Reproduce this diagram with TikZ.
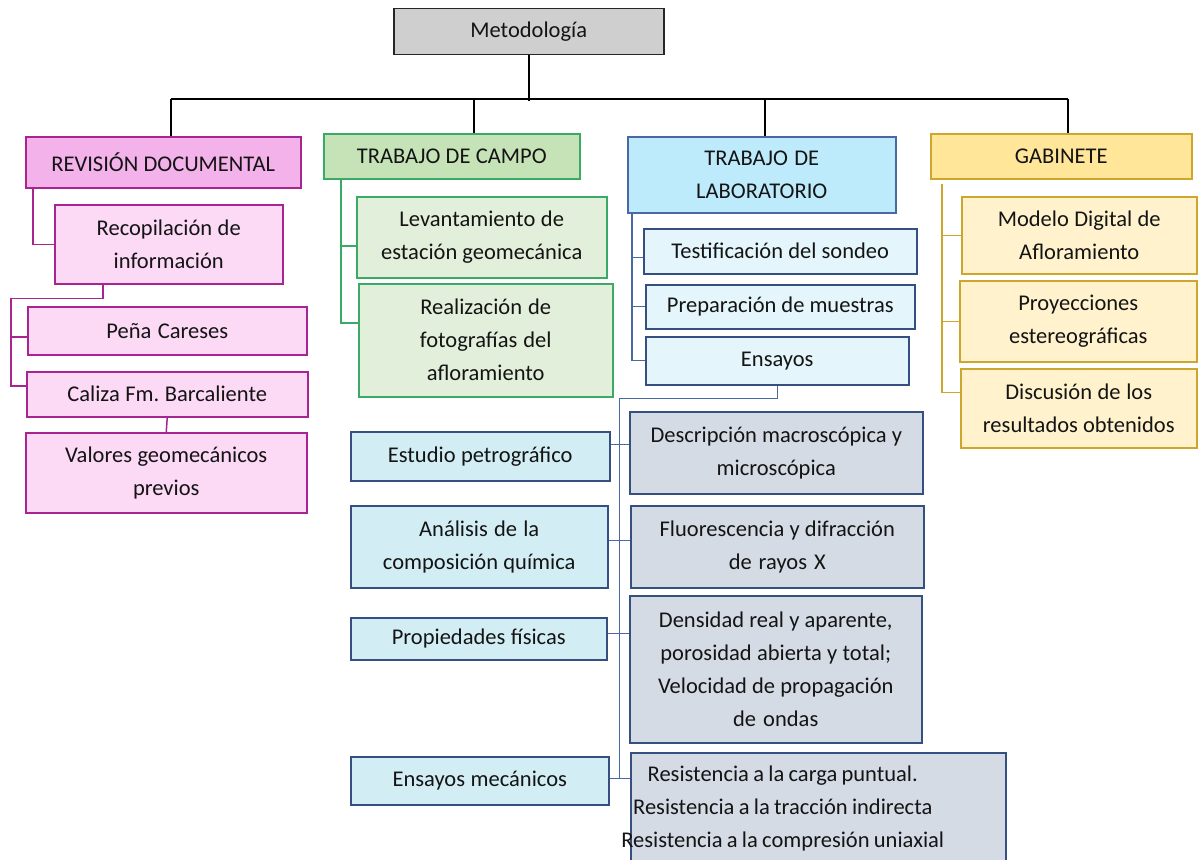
\documentclass[tikz,border=0pt]{standalone}
\usepackage{fontspec}
\setmainfont{Carlito}[WordSpace={0.85,0.5,0.5}]
\frenchspacing
\definecolor{metfill}{HTML}{D0CFCF}
\definecolor{revfill}{HTML}{F4B2EA}
\definecolor{pinkfill}{HTML}{FCD9F5}
\definecolor{magline}{HTML}{A8258F}
\definecolor{campofill}{HTML}{C6E3B8}
\definecolor{greenfill}{HTML}{E2EFDA}
\definecolor{greenline}{HTML}{3AAA66}
\definecolor{labfill}{HTML}{BEEBFB}
\definecolor{lightblue}{HTML}{E4F5FB}
\definecolor{cyanfill}{HTML}{D2EEF4}
\definecolor{greyblue}{HTML}{D5DBE5}
\definecolor{blueline}{HTML}{4A69A4}
\definecolor{darkblue}{HTML}{344F80}
\definecolor{gabfill}{HTML}{FFE699}
\definecolor{goldfill}{HTML}{FFF2CC}
\definecolor{goldline}{HTML}{CDA62E}
\definecolor{txt}{HTML}{141414}
\tikzset{
  bx/.style={draw, line width=1.5pt, text=txt, font=\fontsize{22.5}{33}\selectfont},
  metb/.style={bx, fill=metfill, draw=black!85},
  revb/.style={bx, fill=revfill, draw=magline},
  pinkb/.style={bx, fill=pinkfill, draw=magline},
  campob/.style={bx, fill=campofill, draw=greenline},
  greenb/.style={bx, fill=greenfill, draw=greenline},
  labb/.style={bx, fill=labfill, draw=blueline},
  lbb/.style={bx, fill=lightblue, draw=darkblue},
  cyb/.style={bx, fill=cyanfill, draw=darkblue},
  gbb/.style={bx, fill=greyblue, draw=darkblue},
  gabb/.style={bx, fill=gabfill, draw=goldline},
  goldb/.style={bx, fill=goldfill, draw=goldline},
  blk/.style={line width=1.8pt, draw=black},
  mag/.style={line width=1.5pt, draw=magline},
  grn/.style={line width=1.5pt, draw=greenline},
  blu/.style={line width=1.4pt, draw=blueline},
  gld/.style={line width=1.4pt, draw=goldline},
}
\newcommand\bx[7]{%
  \pgfmathsetlengthmacro\bxw{#5-#3}%
  \pgfmathsetlengthmacro\bxh{#6-#4}%
  \node[#2, anchor=north west, minimum width=\bxw, minimum height=\bxh,
        text width=\bxw, inner sep=0pt, align=center] (#1) at (#3,#4)
        {\spaceskip=0.2em plus 0.05em minus 0.05em\relax #7};}
\begin{document}
\begin{tikzpicture}[x=1pt, y=-1pt]
\useasboundingbox (0,0) rectangle (1198,859);
\fill[white] (0,0) rectangle (1198,859);

% top
\bx{met}{metb}{393}{8}{663}{54}{Metodología}
\bx{rev}{revb}{25}{136}{300}{187}{REVISIÓN DOCUMENTAL}
\bx{campo}{campob}{323}{133}{579}{178}{TRABAJO DE CAMPO}
\bx{lab}{labb}{627}{136}{895}{212}{TRABAJO DE\\LABORATORIO}
\bx{gab}{gabb}{930}{133}{1191}{178}{GABINETE}

% revision documental
\bx{rec}{pinkb}{54}{204}{282}{283}{Recopilación de\\información}
\bx{pena}{pinkb}{27}{306}{306}{354}{Peña Careses}
\bx{cal}{pinkb}{26}{371}{307}{416}{Caliza Fm. Barcaliente}
\bx{val}{pinkb}{25}{432}{306}{512}{Valores geomecánicos\\previos}

% campo
\bx{lev}{greenb}{356}{196}{606}{277}{Levantamiento de\\estación geomecánica}
\bx{rea}{greenb}{358}{283}{612}{396}{Realización de\\fotografías del\\afloramiento}

% laboratorio
\bx{test}{lbb}{643}{228}{916}{273}{Testificación del sondeo}
\bx{prep}{lbb}{645}{284}{914}{328}{Preparación de muestras}
\bx{ens}{lbb}{645}{336}{908}{384}{Ensayos}

\bx{est}{cyb}{350}{431}{609}{480}{Estudio petrográfico}
\bx{ana}{cyb}{350}{505}{607}{587}{Análisis de la\\composición química}
\bx{pro}{cyb}{350}{617}{606}{659}{Propiedades físicas}
\bx{mec}{cyb}{350}{756}{608}{804}{Ensayos mecánicos}

\bx{des}{gbb}{629}{411}{922}{493}{Descripción macroscópica y\\microscópica}
\bx{flu}{gbb}{630}{505}{923}{587}{Fluorescencia y difracción\\de rayos X}
\bx{den}{gbb}{629}{595}{921}{742}{Densidad real y aparente,\\porosidad abierta y total;\\Velocidad de propagación\\de ondas}
\node[gbb, anchor=north west, minimum width=375pt, minimum height=112pt, inner sep=0pt]
  (res) at (630,752) {\begin{minipage}{375pt}%
  \makebox[304pt]{Resistencia a la carga puntual.}\\
  \makebox[304pt]{Resistencia a la tracción indirecta}\\
  \makebox[304pt]{Resistencia a la compresión uniaxial}\end{minipage}};

% gabinete
\bx{mod}{goldb}{961}{196}{1196}{273}{Modelo Digital de\\Afloramiento}
\bx{proy}{goldb}{959}{280}{1196}{361}{Proyecciones\\estereográficas}
\bx{disc}{goldb}{960}{368}{1196}{447}{Discusión de los\\resultados obtenidos}

% main tree
\path (met.south) ++(0,45) coordinate (bus);
\coordinate (d1) at (171,99);
\coordinate (d2) at (474,99);
\coordinate (d3) at (765,99);
\coordinate (d4) at (1068,99);
\draw[blk] (met.south) -- (bus);
\draw[blk] (d1) -- (d4);
\draw[blk] (d1) -- (d1 |- rev.north);
\draw[blk] (d2) -- (d2 |- campo.north);
\draw[blk] (d3) -- (d3 |- lab.north);
\draw[blk] (d4) -- (d4 |- gab.north);

% magenta
\draw[mag] ([xshift=8pt]rev.south west) |- (rec.west);
\draw[mag] ([xshift=49pt]rec.south west) -- ++(0,14) -| ([xshift=-15pt,yshift=8.5pt]cal.west) -- ([yshift=8.5pt]cal.west);
\draw[mag] ([xshift=-16pt,yshift=-6pt]pena.west) -- ([yshift=-6pt]pena.west);
\draw[mag] (cal.south) -- (val.north);

% green
\draw[grn] ([xshift=18pt]campo.south west) |- ([yshift=17.5pt]rea.west);
\draw[grn] ([yshift=-8.5pt]lev.west) -- ++(-15,0);

% blue
\draw[blu] ([xshift=5pt]lab.south west) |- (ens.west);
\draw[blu] ([yshift=-6.5pt]test.west) -- ++(-11,0);
\draw[blu] (prep.west) -- ++(-13,0);
\draw[blu] (ens.south) -- ++(0,13) -| ([xshift=10pt,yshift=2pt]mec.east);
\draw[blu] ([yshift=11.5pt]est.east) -- ([yshift=11.5pt]est.east -| des.west);
\draw[blu] ([yshift=6pt]ana.east) -- ([yshift=6pt]ana.east -| flu.west);
\draw[blu] ([yshift=5pt]pro.east) -- ([yshift=5pt]pro.east -| den.west);
\draw[blu] ([yshift=2pt]mec.east) -- ([yshift=2pt]mec.east -| res.west);

% gold
\draw[gld] ([xshift=12pt,yshift=-4pt]gab.south west) |- ([yshift=15.5pt]disc.west);
\draw[gld] (mod.west) -- ++(-19,0);
\draw[gld] (proy.west) -- ++(-17,0);
\end{tikzpicture}
\end{document}
